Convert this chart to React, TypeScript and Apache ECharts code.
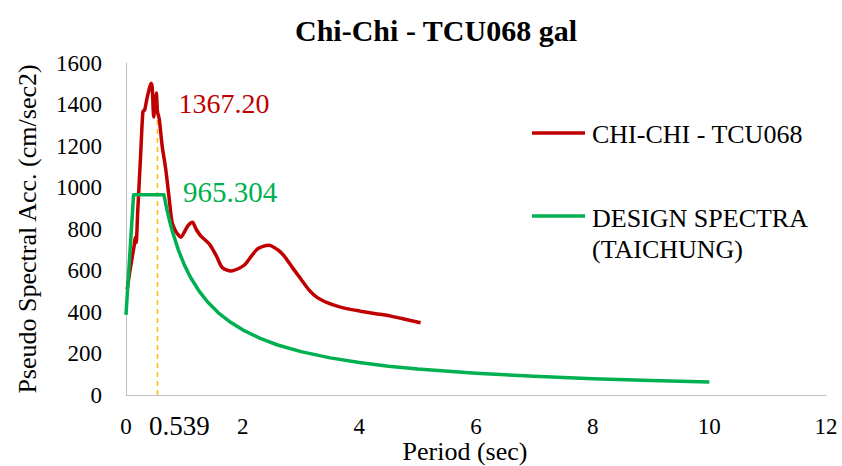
import { useEffect, useRef } from "react";
import * as echarts from "echarts";

// Recorded response spectrum, Chi-Chi earthquake, station TCU068
const recordPeriods = [
  0.02, 0.08, 0.14, 0.16, 0.175, 0.2, 0.25, 0.29, 0.32, 0.36, 0.39, 0.43, 0.45,
  0.475, 0.5, 0.52, 0.539, 0.57, 0.62, 0.68, 0.735, 0.79, 0.85, 0.9, 0.94, 1.0,
  1.06, 1.14, 1.2, 1.28, 1.43, 1.55, 1.65, 1.8, 1.95, 2.05, 2.25, 2.45, 2.6, 2.71,
  2.85, 3.0, 3.14, 3.28, 3.45, 3.62, 3.8, 4.02, 4.28, 4.54, 4.8, 5.05,
];
const recordAcc = [
  510, 620, 720, 760, 735, 880, 1150, 1366, 1374, 1430, 1465, 1503, 1480, 1340,
  1415, 1455, 1367.2, 1330, 1200, 1090, 960, 832, 790, 770, 760, 785, 815, 832,
  800, 767, 727, 670, 614, 598, 612, 632, 703, 722, 700, 671, 615, 558, 505, 469,
  445, 428, 415, 404, 392, 380, 364, 348,
];

// Design spectrum for Taichung
const designPeriods = [
  0, 0.13, 0.65, 0.7, 0.75, 0.8, 0.9, 1.0, 1.1, 1.25, 1.4, 1.6, 1.8, 2.0, 2.3, 2.6,
  3.0, 3.5, 4.0, 4.5, 5.0, 6.0, 7.0, 8.0, 9.0, 10.0,
];
const designAcc = [
  386, 965.304, 965.304, 896, 836, 784, 697, 627, 570, 502, 448, 392, 349, 314,
  273, 241, 209, 179, 157, 139, 125, 105, 90, 78, 70, 63,
];

const peakPeriod = 0.539;
const peakAcc = 1367.2;
const plateauPeriod = 0.65;
const plateauAcc = 965.304;

const recordName = "CHI-CHI - TCU068";
const designName = "DESIGN SPECTRA";
const designSubName = "(TAICHUNG)";

const RED = "#C00000";
const GREEN = "#00B050";
const AMBER = "#FFC000";
const FONT = "'Liberation Serif', 'Times New Roman', Times, serif";

const zip = (xs: number[], ys: number[]) => xs.map((x, i) => [x, ys[i]]);

export default function App() {
  const ref = useRef<HTMLDivElement>(null);

  useEffect(() => {
    document.body.style.margin = "0";
    if (!ref.current) return;
    const chart = echarts.init(ref.current, undefined, { renderer: "svg" });

    chart.setOption({
      animation: false,
      backgroundColor: "#ffffff",
      title: {
        text: "Chi-Chi - TCU068 gal",
        left: 431,
        top: 10,
        textAlign: "center",
        textStyle: { fontFamily: FONT, fontWeight: "bold", fontSize: 30, color: "#000" },
      },
      grid: {
        left: 126,
        right: 16,
        top: 63,
        bottom: 71,
        containLabel: false,
        outerBoundsMode: "none",
      },
      xAxis: {
        type: "value",
        min: 0,
        max: 12,
        interval: 2,
        name: "Period (sec)",
        nameLocation: "middle",
        nameGap: 43,
        nameMoveOverlap: false,
        nameTextStyle: {
          fontFamily: FONT,
          fontSize: 26,
          lineHeight: 26,
          color: "#000",
          padding: [0, 22, 0, 0],
        },
        axisLine: { show: true, lineStyle: { color: "#BFBFBF", width: 1 } },
        axisTick: { show: false },
        splitLine: { show: false },
        axisLabel: { fontFamily: FONT, fontSize: 23, lineHeight: 22, color: "#000", margin: 20 },
      },
      yAxis: {
        type: "value",
        min: 0,
        max: 1600,
        interval: 200,
        name: "Pseudo Spectral Acc. (cm/sec2)",
        nameLocation: "middle",
        nameGap: 86,
        nameMoveOverlap: false,
        nameTextStyle: { fontFamily: FONT, fontSize: 26, color: "#000" },
        axisLine: { show: true, lineStyle: { color: "#BFBFBF", width: 1 } },
        axisTick: { show: false },
        splitLine: { show: false },
        axisLabel: {
          fontFamily: FONT,
          fontSize: 23,
          color: "#000",
          margin: 24,
          formatter: (v: number) => String(v),
        },
      },
      series: [
        {
          name: "period marker",
          type: "line",
          data: [
            [peakPeriod, 0],
            [peakPeriod, peakAcc],
          ],
          symbol: "none",
          silent: true,
          lineStyle: { color: AMBER, width: 1.5, type: [5, 4] },
          z: 1,
        },
        {
          name: recordName,
          type: "line",
          data: zip(recordPeriods, recordAcc),
          symbol: "none",
          smooth: 0.25,
          lineStyle: { color: RED, width: 3.5 },
          z: 2,
        },
        {
          name: `${designName} ${designSubName}`,
          type: "line",
          data: zip(designPeriods, designAcc),
          symbol: "none",
          lineStyle: { color: GREEN, width: 3.5, join: "round" },
          z: 3,
        },
      ],
    });

    const toPx = (p: number[]) =>
      chart.convertToPixel({ xAxisIndex: 0, yAxisIndex: 0 }, p) as number[];
    const peakPx = toPx([peakPeriod, peakAcc]);
    const basePx = toPx([peakPeriod, 0]);
    const plateauPx = toPx([plateauPeriod, plateauAcc]);

    const legendX = 532;
    const legendLine = 53;
    const legendText = 60;
    const textStyle = (text: string, fill: string, size: number, align = "left") => ({
      text,
      fill,
      fontFamily: FONT,
      fontSize: size,
      align,
      verticalAlign: "middle",
    });

    chart.setOption({
      graphic: [
        {
          type: "text",
          x: peakPx[0] + 21,
          y: peakPx[1] - 8,
          style: textStyle(peakAcc.toFixed(2), RED, 28),
        },
        {
          type: "text",
          x: plateauPx[0] + 19,
          y: plateauPx[1] - 3,
          style: textStyle(String(plateauAcc), GREEN, 29),
        },
        {
          type: "text",
          x: basePx[0] + 22,
          y: basePx[1] + 31,
          style: textStyle(String(peakPeriod), "#000", 27, "center"),
        },
        {
          type: "line",
          shape: { x1: legendX, y1: 133, x2: legendX + legendLine, y2: 133 },
          style: { stroke: RED, lineWidth: 3.5 },
        },
        {
          type: "text",
          x: legendX + legendText,
          y: 134,
          style: textStyle(recordName, "#000", 26),
        },
        {
          type: "line",
          shape: { x1: legendX, y1: 216, x2: legendX + legendLine, y2: 216 },
          style: { stroke: GREEN, lineWidth: 3.5 },
        },
        {
          type: "text",
          x: legendX + legendText,
          y: 218,
          style: textStyle(designName, "#000", 26),
        },
        {
          type: "text",
          x: legendX + legendText,
          y: 249,
          style: textStyle(designSubName, "#000", 26),
        },
      ],
    });

    return () => chart.dispose();
  }, []);

  return <div ref={ref} style={{ width: 842, height: 466 }} />;
}
